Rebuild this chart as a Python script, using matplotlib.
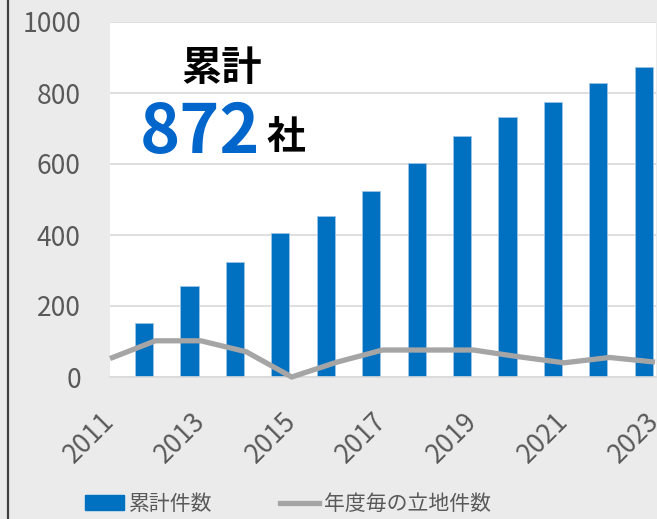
import numpy as np
import matplotlib
matplotlib.use("Agg")
import matplotlib.pyplot as plt
from matplotlib.patches import Patch
from matplotlib.lines import Line2D

plt.rcParams['font.family'] = ['Noto Sans CJK JP', 'DejaVu Sans']

### data ###
bar_years = [2012, 2013, 2014, 2015, 2016, 2017, 2018, 2019, 2020, 2021, 2022, 2023]
cumulative = [151, 256, 324, 406, 453, 525, 603, 680, 733, 775, 828, 872]  # 累計件数
line_years = [2011, 2012, 2013, 2014, 2015, 2016, 2017, 2018, 2019, 2020, 2021, 2022, 2023]
annual = [52, 102, 102, 71, 0, 42, 76, 76, 76, 57, 40, 55, 42]  # 年度毎の立地件数
xtick_years = [2011, 2013, 2015, 2017, 2019, 2021, 2023]
total_label = cumulative[-1]

### colours ###
bg = '#ebebeb'
blue = '#0070c0'
grey_line = '#a5a5a5'
tick_col = '#595959'

W, H = 657, 519
fig = plt.figure(figsize=(W / 100, H / 100), dpi=100, facecolor=bg)
ax = fig.add_axes([110 / W, 1 - 377 / H, (656 - 110) / W, (377 - 22) / H])
ax.set_facecolor('white')

# cumulative bars, shifted a bit left of the year tick
ax.bar(np.array(bar_years) - 0.25, cumulative, width=0.4, color=blue,
       edgecolor='#9dc3e6', linewidth=0.6, zorder=2)
# yearly count line
ax.plot(line_years, annual, color=grey_line, lw=3.8, zorder=3,
        solid_capstyle='butt', solid_joinstyle='miter', clip_on=False)

ax.set_xlim(2011, 2023.02)
ax.set_ylim(0, 1000)
ax.set_yticks(range(0, 1001, 200))
ax.yaxis.grid(True, color='#d9d9d9', lw=1.2, zorder=1)
ax.set_axisbelow(True)
for s in ax.spines.values():
    s.set_visible(False)
ax.spines['bottom'].set_visible(True)
ax.spines['bottom'].set_color('#d9d9d9')
ax.spines['bottom'].set_linewidth(1.2)

ax.tick_params(axis='y', length=0, pad=21, labelsize=19, labelcolor=tick_col)
ax.set_xticks(xtick_years)
ax.set_xticklabels([str(y) for y in xtick_years], rotation=45, ha='right',
                   va='center', rotation_mode='anchor')
ax.tick_params(axis='x', length=0, pad=29, labelsize=19, labelcolor=tick_col)

# total annotation
ax.text(222 / W, 1 - 68 / H, '累計', transform=fig.transFigure, ha='center',
        va='center', fontsize=29, fontweight='bold', color='black')
fig.text(200 / W, 1 - 134 / H, str(total_label), ha='center', va='center',
         fontsize=49, fontweight='bold', color='#0066cc')
fig.text(286 / W, 1 - 138 / H, '社', ha='center', va='center',
         fontsize=28, fontweight='bold', color='black')

# dark rule down the left edge
fig.add_artist(Line2D([8 / W, 8 / W], [0, 1], transform=fig.transFigure,
                      color='#404040', lw=1.6))

handles = [Patch(facecolor=blue, edgecolor=blue),
           Line2D([0], [0], color=grey_line, lw=3.8)]
fig.legend(handles, ['累計件数', '年度毎の立地件数'], loc='center',
           bbox_to_anchor=(288 / W, 1 - 504 / H), ncol=2, frameon=False,
           fontsize=15, labelcolor=tick_col, handlelength=1.9, handleheight=0.75,
           handletextpad=0.25, columnspacing=3.2, borderpad=0, borderaxespad=0)

fig.savefig('out.png', dpi=100, facecolor=bg)
